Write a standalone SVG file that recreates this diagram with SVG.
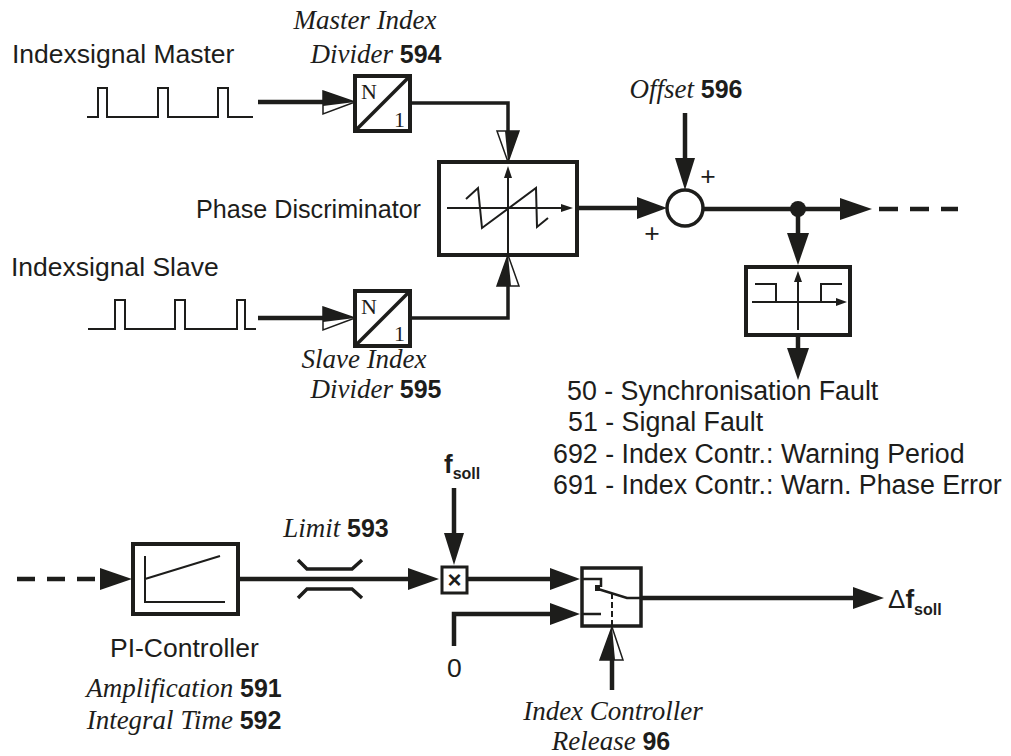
<svg xmlns="http://www.w3.org/2000/svg" width="1011" height="756" viewBox="0 0 1011 756">
<style>
.bg{fill:#fff}
.box{fill:#fff;stroke:#1d1d1b;stroke-width:4}
.ln{fill:none;stroke:#1d1d1b;stroke-width:4.5}
.md{fill:none;stroke:#1d1d1b;stroke-width:3.5}
.th{fill:none;stroke:#1d1d1b;stroke-width:2}
.ah{fill:#1d1d1b;stroke:none}
.ao{fill:#fff;stroke:#1d1d1b;stroke-width:1.5}
.sans{font-family:"Liberation Sans",Arial,sans-serif;font-size:26.5px;fill:#1d1d1b}
.ft{font-family:"Liberation Sans",Arial,sans-serif;font-size:26.8px;fill:#1d1d1b}
.ser{font-family:"Liberation Serif","Times New Roman",serif;font-style:italic;font-size:27px;fill:#1d1d1b}
.num{font-family:"Liberation Sans",Arial,sans-serif;font-weight:bold;font-style:normal;font-size:25px;fill:#1d1d1b}
.dv{font-family:"Liberation Serif","Times New Roman",serif;font-size:22px;fill:#1d1d1b}
</style>
<rect class="bg" width="1011" height="756"/>

<g id="labels">
<text class="sans" x="12" y="63">Indexsignal Master</text>
<text class="ser" x="365" y="29" text-anchor="middle" font-size="25">Master Index</text>
<text class="ser" x="376" y="63" text-anchor="middle" font-size="28">Divider <tspan class="num">594</tspan></text>
<text class="ser" x="686" y="98" text-anchor="middle">Offset <tspan class="num">596</tspan></text>
<text class="sans" x="196" y="218" textLength="225" lengthAdjust="spacingAndGlyphs">Phase Discriminator</text>
<text class="sans" x="11" y="276">Indexsignal Slave</text>
<text class="ser" x="364" y="368" text-anchor="middle" font-size="25">Slave Index</text>
<text class="ser" x="376" y="398" text-anchor="middle" font-size="28">Divider <tspan class="num">595</tspan></text>
<text class="ft" x="567" y="400">50 - Synchronisation Fault</text>
<text class="ft" x="568" y="431">51 - Signal Fault</text>
<text class="ft" x="553" y="463">692 - Index Contr.: Warning Period</text>
<text class="ft" x="553" y="494">691 - Index Contr.: Warn. Phase Error</text>
<text class="ser" x="336" y="537" text-anchor="middle">Limit <tspan class="num">593</tspan></text>
<text class="sans" x="110" y="657">PI-Controller</text>
<text class="ser" x="184" y="697" text-anchor="middle" font-size="24">Amplification <tspan class="num" font-size="23">591</tspan></text>
<text class="ser" x="184" y="729" text-anchor="middle" font-size="24">Integral Time <tspan class="num" font-size="23">592</tspan></text>
<text class="ser" x="613" y="720" text-anchor="middle" font-size="28">Index Controller</text>
<text class="ser" x="611" y="750" text-anchor="middle" font-size="28">Release <tspan class="num">96</tspan></text>
</g>

<g id="master-signal">
<path class="th" d="M87,117 H98 V88 H107 V117 H158 V88 H168 V117 H218 V88 H228 V117 H253"/>
</g>
<g id="slave-signal">
<path class="th" d="M88,329 H115 V300 H125 V329 H175 V300 H185 V329 H237 V300 H245 V329 H256"/>
</g>

<g id="master-divider">
<rect class="box" x="355" y="76" width="55" height="55"/>
<line class="md" x1="355" y1="131" x2="410" y2="76"/>
<text class="dv" x="361" y="99">N</text>
<text class="dv" x="394" y="127">1</text>
</g>

<g id="slave-divider">
<rect class="box" x="355" y="291" width="55" height="55"/>
<line class="md" x1="355" y1="346" x2="410" y2="291"/>
<text class="dv" x="361" y="314">N</text>
<text class="dv" x="394" y="341">1</text>
</g>

<g id="phase-discriminator">
<rect class="box" x="439" y="162" width="138" height="93"/>
<path class="th" d="M508,255 V175 M447,208 H563"/>
<polygon class="ah" points="508,166 504,178 512,178"/>
<polygon class="ah" points="573,208 561,204 561,212"/>
<polyline class="th" points="466,199 478,188 482,228 536,188 537,227 548,218"/>
</g>

<g id="summing-junction">
<circle cx="685" cy="208" r="18" fill="#fff" stroke="#1d1d1b" stroke-width="3.5"/>
<text class="sans" x="708" y="185" text-anchor="middle">+</text>
<text class="sans" x="652" y="242" text-anchor="middle">+</text>
</g>

<g id="fault-monitor">
<rect class="box" x="746" y="267" width="104" height="68"/>
<path class="th" d="M798,330 V280 M752,302 H838"/>
<polygon class="ah" points="798,271 794,282 802,282"/>
<polygon class="ah" points="847,302 836,298 836,306"/>
<path class="th" d="M755,284 H776 V302 M821,302 V284 H842"/>
</g>

<g id="pi-controller">
<rect class="box" x="133" y="544" width="105" height="70"/>
<path class="th" d="M145,556 V602 H225 M145,579 L220,556"/>
</g>

<g id="limiter">
<path class="md" d="M298,560 L307,569 H352 L362,560 M298,598 L307,589 H352 L362,598"/>
</g>

<g id="multiplier">
<rect x="442" y="567" width="25" height="26" fill="#fff" stroke="#1d1d1b" stroke-width="3"/>
<text x="454.5" y="588" text-anchor="middle" style="font-family:'Liberation Sans',Arial,sans-serif;font-weight:bold;font-size:24px;fill:#1d1d1b">×</text>
<text x="444" y="473" style="font-family:'Liberation Sans',Arial,sans-serif;font-weight:bold;font-size:26px;fill:#1d1d1b">f<tspan dy="6" font-size="16">soll</tspan></text>
</g>

<g id="switch">
<rect x="582" y="568" width="59" height="58" fill="#fff" stroke="#1d1d1b" stroke-width="3.5"/>
<path fill="none" stroke="#1d1d1b" stroke-width="2.5" d="M582,579 H601 V587 M582,614 H601"/>
<rect x="595" y="585" width="5" height="6" fill="#1d1d1b"/>
<path fill="none" stroke="#1d1d1b" stroke-width="2.5" d="M598,589 L627,598 H641"/>
<path fill="none" stroke="#1d1d1b" stroke-width="2" stroke-dasharray="6 3" d="M612,593 V626"/>
<text class="sans" x="447" y="677">0</text>
<text x="888" y="608" style="font-family:'Liberation Sans',Arial,sans-serif;font-size:26px;fill:#1d1d1b">Δ<tspan font-weight="bold">f</tspan><tspan font-weight="bold" dy="7" font-size="16">soll</tspan></text>
</g>

<g id="connectors">
<path class="ln" d="M258,102 H326"/>
<polygon class="ao" points="323,91 355,102 323,114"/>
<polygon class="ah" points="323,91 355,102 323,106"/>
<path class="md" d="M410,103 H508 V133"/>
<polygon class="ao" points="497,131 519,131 508,162"/>
<polygon class="ah" points="505,131 519,131 508,162"/>
<path class="ln" d="M258,318 H326"/>
<polygon class="ao" points="323,307 355,318 323,330"/>
<polygon class="ah" points="323,307 355,318 323,322"/>
<path class="md" d="M410,318 H508 V284"/>
<polygon class="ao" points="497,286 519,286 508,255"/>
<polygon class="ah" points="497,286 511,286 508,255"/>
<path class="ln" d="M577,208 H640"/>
<polygon class="ah" points="637,197 667,208 637,219"/>
<path class="ln" d="M685,113 V160"/>
<polygon class="ah" points="675,158 695,158 685,190"/>
<path class="ln" d="M703,209 H842"/>
<circle cx="798" cy="209" r="8" fill="#1d1d1b"/>
<polygon class="ah" points="840,198 872,209 840,220"/>
<path class="ln" stroke-dasharray="19 12" d="M879,209 H958"/>
<path class="ln" d="M798,209 V236"/>
<polygon class="ah" points="787,233 809,233 798,265"/>
<path class="ln" d="M798,335 V350"/>
<polygon class="ah" points="787,348 809,348 798,380"/>
<path class="ln" stroke-dasharray="18 12" d="M17,579 H102"/>
<polygon class="ah" points="100,568 132,579 100,590"/>
<path class="ln" d="M238,579 H410"/>
<polygon class="ah" points="408,568 439,579 408,590"/>
<path class="ln" d="M454,488 V536"/>
<polygon class="ah" points="444,533 464,533 454,565"/>
<path class="ln" d="M467,579 H552"/>
<polygon class="ah" points="550,568 580,579 550,590"/>
<path class="ln" d="M454,646 V614 H552"/>
<polygon class="ah" points="550,603 580,614 550,625"/>
<path class="ln" d="M641,598 H855"/>
<polygon class="ah" points="853,587 884,598 853,609"/>
<path class="ln" d="M612,690 V658"/>
<polygon class="ao" points="600,660 623,660 612,627"/>
<polygon class="ah" points="600,660 615,660 612,627"/>
</g>
</svg>
